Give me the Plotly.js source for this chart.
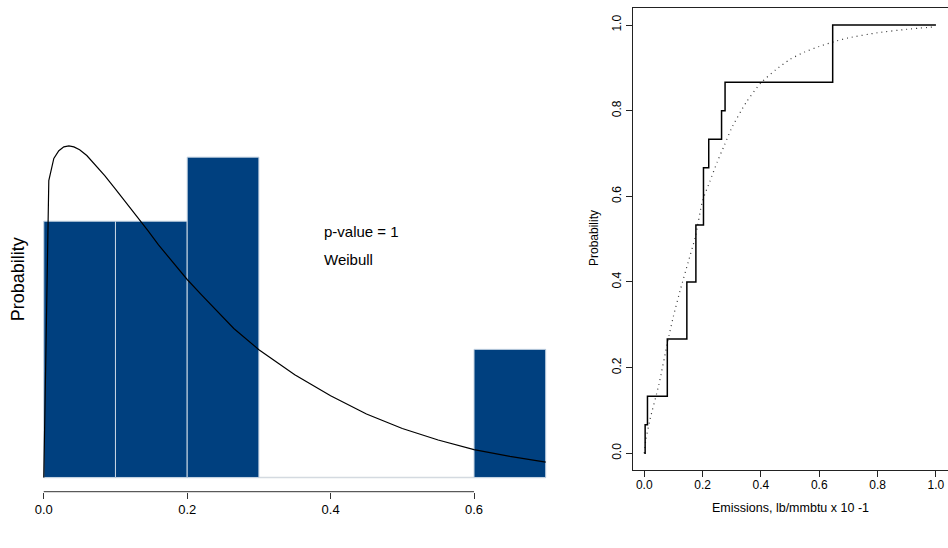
<!DOCTYPE html>
<html><head><meta charset="utf-8">
<script src="https://cdn.plot.ly/plotly-3.0.1.min.js"></script>
<style>html,body{margin:0;padding:0;background:#fff}#chart{width:948px;height:548px}</style>
</head><body><div id="chart"></div>
<script>
// Sample values (emissions, lb/mmbtu x 10^-1), read from the ECDF steps
const emissions = [0.003, 0.011, 0.079, 0.079, 0.146, 0.146, 0.177, 0.177, 0.203, 0.203, 0.221, 0.265, 0.277, 0.646, 0.646];
// Fitted Weibull density curve (left panel)
const densityX = [0, 0.007, 0.014, 0.021, 0.028, 0.035, 0.042, 0.05, 0.06, 0.07, 0.085, 0.1, 0.115, 0.13, 0.145, 0.16, 0.18, 0.2, 0.22, 0.235, 0.25, 0.265, 0.3, 0.35, 0.4, 0.45, 0.5, 0.55, 0.6, 0.65, 0.7];
const densityY = [0, 3.09, 3.32, 3.40, 3.44, 3.45, 3.44, 3.41, 3.35, 3.27, 3.14, 3.00, 2.86, 2.72, 2.57, 2.42, 2.24, 2.06, 1.90, 1.78, 1.66, 1.55, 1.33, 1.07, 0.85, 0.66, 0.51, 0.39, 0.29, 0.22, 0.16];
// Fitted Weibull CDF (right panel, dotted)
const fittedCdfX = [0, 0.005, 0.02, 0.05, 0.08, 0.1, 0.125, 0.15, 0.175, 0.2, 0.225, 0.25, 0.275, 0.3, 0.35, 0.4, 0.45, 0.5, 0.55, 0.6, 0.65, 0.7, 0.8, 0.9, 1.0];
const fittedCdfY = [0, 0.03, 0.08, 0.16, 0.26, 0.32, 0.385, 0.445, 0.505, 0.59, 0.635, 0.68, 0.72, 0.76, 0.82, 0.865, 0.895, 0.92, 0.937, 0.95, 0.961, 0.97, 0.982, 0.99, 0.996];
const leftTickVals = [0, 0.2, 0.4, 0.6];
const leftTickText = ['0.0', '0.2', '0.4', '0.6'];
const rightTickVals = [0, 0.2, 0.4, 0.6, 0.8, 1.0];
const rightTickText = ['0.0', '0.2', '0.4', '0.6', '0.8', '1.0'];
const pValueLabel = 'p-value = 1';
const distLabel = 'Weibull';
const yTitle = 'Probability';
const xTitleRight = 'Emissions, lb/mmbtu x 10 -1';

// Empirical CDF built from the sample values
const sorted = emissions.slice().sort((a, b) => a - b);
const ecdfX = [0], ecdfY = [0];
sorted.forEach((v, i) => { ecdfX.push(v); ecdfY.push((i + 1) / sorted.length); });
ecdfX.push(1.0); ecdfY.push(1);

const FONT = 'Liberation Sans, Arial, Helvetica, sans-serif';
const W = 948, H = 548;
const px = v => v / W, py = v => (H - v) / H;

const traces = [
  {type: 'histogram', x: emissions, xbins: {start: 0, end: 0.7, size: 0.1}, autobinx: false,
   histnorm: 'probability density', xaxis: 'x', yaxis: 'y',
   marker: {color: '#00407F', line: {color: '#C6D4E3', width: 1}}, hoverinfo: 'skip'},
  {type: 'scatter', mode: 'lines', x: densityX, y: densityY, xaxis: 'x', yaxis: 'y',
   line: {color: '#000', width: 1.2}, hoverinfo: 'skip'},
  {type: 'scatter', mode: 'lines', x: fittedCdfX, y: fittedCdfY, xaxis: 'x2', yaxis: 'y2',
   line: {color: '#333', width: 1.2, dash: '1px,4px', shape: 'spline', smoothing: 0.6}, hoverinfo: 'skip'},
  {type: 'scatter', mode: 'lines', x: ecdfX, y: ecdfY, xaxis: 'x2', yaxis: 'y2',
   line: {color: '#000', width: 1.5, shape: 'hv'}, hoverinfo: 'skip'}
];

const leftBottom = py(491.7);
const layout = {
  width: W, height: H, showlegend: false, bargap: 0,
  margin: {l: 0, r: 0, t: 0, b: 0},
  paper_bgcolor: '#fff', plot_bgcolor: '#fff',
  font: {family: FONT, color: '#000', size: 13},
  xaxis: {domain: [px(23.7), px(565.8)], range: [-0.028, 0.728], anchor: 'y',
    showgrid: false, zeroline: false, showline: false,
    ticks: 'outside', ticklen: 6, tickwidth: 1, tickcolor: '#333',
    tickvals: leftTickVals, ticktext: leftTickText, tickfont: {size: 13, family: FONT}},
  yaxis: {domain: [leftBottom, py(70)], range: [-0.148, 4.24], anchor: 'x',
    showgrid: false, zeroline: false, showline: false, showticklabels: false, ticks: ''},
  xaxis2: {domain: [px(632.6), px(947.6)], range: [-0.04, 1.04], anchor: 'y2',
    showgrid: false, zeroline: false, showline: true, mirror: true, linecolor: '#222', linewidth: 1,
    ticks: 'outside', ticklen: 6, tickwidth: 1, tickcolor: '#222', ticklabelstandoff: -3,
    tickvals: rightTickVals, ticktext: rightTickText, tickfont: {size: 12, family: FONT}},
  yaxis2: {domain: [py(470.4), py(7.9)], range: [-0.04, 1.04], anchor: 'x2',
    showgrid: false, zeroline: false, showline: true, mirror: true, linecolor: '#222', linewidth: 1,
    ticks: 'outside', ticklen: 6, tickwidth: 1, tickcolor: '#222', tickangle: -90,
    tickvals: rightTickVals, ticktext: rightTickText, tickfont: {size: 12, family: FONT}},
  shapes: [
    {type: 'line', xref: 'x', yref: 'y', x0: 0, x1: 0.7, y0: 0, y1: 0, layer: 'below',
     line: {color: '#D4DAE0', width: 1.5}},
    {type: 'line', xref: 'x', yref: 'paper', x0: 0, x1: 0.6, y0: leftBottom, y1: leftBottom,
     line: {color: '#333', width: 1}}
  ],
  annotations: [
    {xref: 'x', yref: 'y', x: 0.388, y: 2.56, text: pValueLabel, showarrow: false, xanchor: 'left', yanchor: 'middle', font: {size: 15, family: FONT}},
    {xref: 'x', yref: 'y', x: 0.388, y: 2.27, text: distLabel, showarrow: false, xanchor: 'left', yanchor: 'middle', font: {size: 15, family: FONT}},
    {xref: 'paper', yref: 'paper', x: px(18.3), y: py(279), text: yTitle, textangle: -90, showarrow: false, xanchor: 'center', yanchor: 'middle', font: {size: 18, family: FONT}},
    {xref: 'paper', yref: 'paper', x: px(594), y: py(238), text: yTitle, textangle: -90, showarrow: false, xanchor: 'center', yanchor: 'middle', font: {size: 12, family: FONT}},
    {xref: 'paper', yref: 'paper', x: px(790), y: py(507.7), text: xTitleRight, showarrow: false, xanchor: 'center', yanchor: 'middle', font: {size: 12.5, family: FONT}}
  ]
};

Plotly.newPlot('chart', traces, layout, {staticPlot: true, displayModeBar: false});
</script>
</body></html>
